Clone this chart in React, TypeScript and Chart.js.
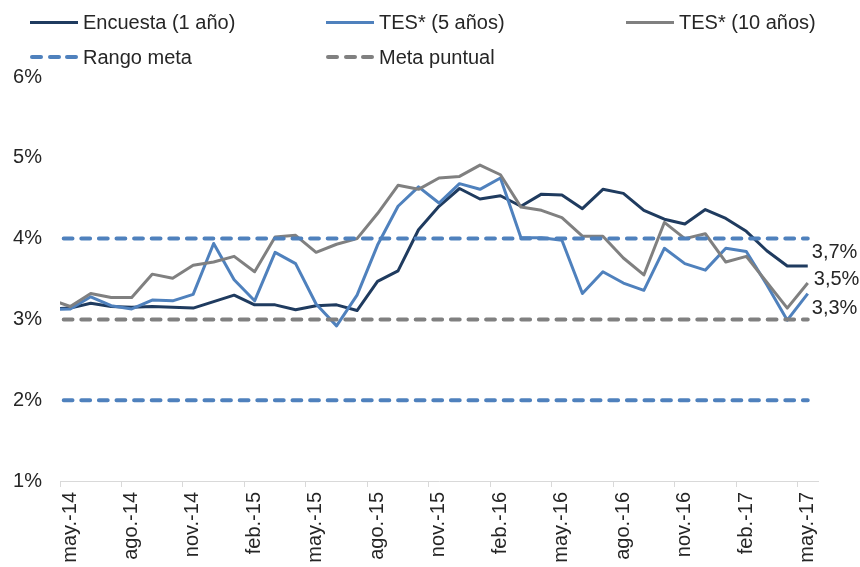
import React, { useEffect, useRef } from 'react';
import { Chart, registerables } from 'chart.js';

Chart.register(...registerables);

// ---- DATA ----
const months = [
  'abr.-14', 'may.-14', 'jun.-14', 'jul.-14', 'ago.-14', 'sep.-14', 'oct.-14', 'nov.-14', 'dic.-14',
  'ene.-15', 'feb.-15', 'mar.-15', 'abr.-15', 'may.-15', 'jun.-15', 'jul.-15', 'ago.-15', 'sep.-15', 'oct.-15', 'nov.-15', 'dic.-15',
  'ene.-16', 'feb.-16', 'mar.-16', 'abr.-16', 'may.-16', 'jun.-16', 'jul.-16', 'ago.-16', 'sep.-16', 'oct.-16', 'nov.-16', 'dic.-16',
  'ene.-17', 'feb.-17', 'mar.-17', 'abr.-17', 'may.-17',
];

const tickLabels = [
  'may.-14', 'ago.-14', 'nov.-14', 'feb.-15', 'may.-15', 'ago.-15', 'nov.-15',
  'feb.-16', 'may.-16', 'ago.-16', 'nov.-16', 'feb.-17', 'may.-17',
];

const encuesta = [
  3.13, 3.14, 3.20, 3.16, 3.15, 3.16, 3.15, 3.14, 3.22,
  3.30, 3.18, 3.18, 3.12, 3.17, 3.18, 3.11, 3.47, 3.60, 4.11, 4.40, 4.62,
  4.49, 4.53, 4.40, 4.55, 4.54, 4.37, 4.61, 4.56, 4.35, 4.24, 4.18, 4.36,
  4.25, 4.09, 3.85, 3.66, 3.66,
];

const tes5 = [
  3.12, 3.13, 3.28, 3.17, 3.13, 3.24, 3.23, 3.31, 3.94,
  3.49, 3.23, 3.83, 3.69, 3.19, 2.92, 3.30, 3.92, 4.40, 4.64, 4.44, 4.68,
  4.61, 4.75, 4.01, 4.01, 3.98, 3.32, 3.59, 3.45, 3.36, 3.88, 3.69, 3.61,
  3.88, 3.84, 3.43, 2.99, 3.32,
];

const tes10 = [
  3.25, 3.16, 3.32, 3.27, 3.27, 3.56, 3.51, 3.67, 3.71,
  3.78, 3.59, 4.02, 4.04, 3.83, 3.93, 4.00, 4.31, 4.66, 4.61, 4.75, 4.77,
  4.91, 4.79, 4.39, 4.35, 4.26, 4.03, 4.03, 3.76, 3.55, 4.20, 4.00, 4.06,
  3.71, 3.78, 3.46, 3.14, 3.45,
];

const rangoMetaSup = 4;
const rangoMetaInf = 2;
const metaPuntual = 3;

const yTicks = [1, 2, 3, 4, 5, 6];
const endLabels = { encuesta: '3,7%', tes5: '3,3%', tes10: '3,5%' };

// ---- STYLE ----
const FONT = '"Liberation Sans", Arial, Helvetica, sans-serif';
const TEXT = '#262626';
const C_ENC = '#1F3B5F';
const C_TES5 = '#4F81BD';
const C_TES10 = '#808080';
const C_RANGO = '#4F81BD';
const C_META = '#808080';

// x position: slot centre of each month, with "may.-14" slot starting at 0
const xOf = (label: string) => months.indexOf(label) - 1;
const series = (vals: number[]) => vals.map((v, i) => ({ x: xOf(months[i]) + 0.5, y: v }));
const flat = (v: number) => [
  { x: xOf('may.-14'), y: v },
  { x: xOf('may.-17') + 0.5, y: v },
];

const endLabelPlugin = {
  id: 'endLabels',
  afterDatasetsDraw(chart: any) {
    const ctx = chart.ctx;
    chart.data.datasets.forEach((ds: any, i: number) => {
      if (!ds.endLabel) return;
      const meta = chart.getDatasetMeta(i);
      const pt = meta.data[meta.data.length - 1];
      if (!pt) return;
      ctx.save();
      ctx.font = `20px ${FONT}`;
      ctx.fillStyle = TEXT;
      ctx.textAlign = 'left';
      ctx.textBaseline = 'middle';
      ctx.fillText(ds.endLabel, pt.x + ds.endDx, pt.y + ds.endDy);
      ctx.restore();
    });
  },
};

const legendItems = [
  { label: 'Encuesta (1 año)', color: C_ENC, dashed: false, left: 30, top: 22 },
  { label: 'TES* (5 años)', color: C_TES5, dashed: false, left: 326, top: 22 },
  { label: 'TES* (10 años)', color: C_TES10, dashed: false, left: 626, top: 22 },
  { label: 'Rango meta', color: C_RANGO, dashed: true, left: 30, top: 57 },
  { label: 'Meta puntual', color: C_META, dashed: true, left: 326, top: 57 },
];

export default function App() {
  const ref = useRef<HTMLCanvasElement | null>(null);

  useEffect(() => {
    document.body.style.margin = '0';
    const canvas = ref.current;
    if (!canvas) return;

    const lineDs = (label: string, data: any[], color: string, extra: any = {}) => ({
      label,
      data,
      borderColor: color,
      backgroundColor: color,
      borderWidth: 3,
      pointRadius: 0,
      pointHoverRadius: 0,
      tension: 0,
      fill: false,
      clip: 0,
      borderJoinStyle: 'round',
      ...extra,
    });
    const dashExtra = {
      borderWidth: 4,
      borderDash: [8.8, 8.8],
      borderDashOffset: 13.9,
      borderCapStyle: 'round',
    };

    const chart = new Chart(canvas, {
      type: 'line',
      data: {
        datasets: [
          lineDs('Rango meta', flat(rangoMetaSup), C_RANGO, dashExtra),
          lineDs('Rango meta inf', flat(rangoMetaInf), C_RANGO, dashExtra),
          lineDs('Meta puntual', flat(metaPuntual), C_META, dashExtra),
          lineDs('TES* (10 años)', series(tes10), C_TES10, { endLabel: endLabels.tes10, endDx: 6, endDy: -4 }),
          lineDs('TES* (5 años)', series(tes5), C_TES5, { endLabel: endLabels.tes5, endDx: 4, endDy: 15 }),
          lineDs('Encuesta (1 año)', series(encuesta), C_ENC, { endLabel: endLabels.encuesta, endDx: 4, endDy: -14 }),
        ] as any,
      },
      options: {
        animation: false,
        responsive: false,
        maintainAspectRatio: false,
        events: [],
        layout: { padding: { top: 77, right: 42, left: 0, bottom: 0 } },
        plugins: {
          legend: { display: false },
          tooltip: { enabled: false },
          title: { display: false },
        },
        scales: {
          x: {
            type: 'linear',
            min: xOf('may.-14'),
            max: xOf('may.-17') + 1,
            afterBuildTicks: (scale: any) => {
              scale.ticks = tickLabels.map((l) => ({ value: xOf(l), label: l }));
            },
            afterFit: (scale: any) => {
              scale.height = 86;
            },
            ticks: {
              autoSkip: false,
              minRotation: 90,
              maxRotation: 90,
              padding: 5,
              labelOffset: 10,
              color: TEXT,
              font: { family: FONT, size: 20 },
              callback: (v: any) => {
                const i = tickLabels.findIndex((l) => xOf(l) === v);
                return i >= 0 ? tickLabels[i] : '';
              },
            },
            grid: {
              display: true,
              drawOnChartArea: false,
              drawTicks: true,
              tickLength: 6,
              color: '#D9D9D9',
              lineWidth: 1,
            },
            border: { display: true, color: '#D9D9D9', width: 1 },
          },
          y: {
            type: 'linear',
            min: yTicks[0],
            max: yTicks[yTicks.length - 1],
            afterBuildTicks: (scale: any) => {
              scale.ticks = yTicks.map((v) => ({ value: v }));
            },
            afterFit: (scale: any) => {
              scale.width = 60;
            },
            ticks: {
              padding: 18,
              color: TEXT,
              font: { family: FONT, size: 20 },
              callback: (v: any) => `${v}%`,
            },
            grid: { display: false, drawTicks: false },
            border: { display: false },
          },
        },
      } as any,
      plugins: [endLabelPlugin],
    });

    return () => chart.destroy();
  }, []);

  return (
    <div style={{ position: 'relative', width: 860, height: 567, background: '#fff', fontFamily: FONT }}>
      <canvas ref={ref} width={860} height={567} style={{ display: 'block', width: 860, height: 567 }} />
      {legendItems.map((it) => (
        <div
          key={it.label}
          style={{
            position: 'absolute',
            left: it.left,
            top: it.top - 12,
            height: 24,
            display: 'flex',
            alignItems: 'center',
            whiteSpace: 'nowrap',
            fontSize: 20,
            color: TEXT,
            lineHeight: '24px',
          }}
        >
          {it.dashed ? (
            <span style={{ display: 'inline-flex', width: 48, justifyContent: 'space-between', marginRight: 5 }}>
              {[0, 1, 2].map((k) => (
                <span
                  key={k}
                  style={{ display: 'inline-block', width: 13, height: 4, borderRadius: 2, background: it.color }}
                />
              ))}
            </span>
          ) : (
            <span style={{ display: 'inline-block', width: 48, height: 3, background: it.color, marginRight: 5 }} />
          )}
          <span>{it.label}</span>
        </div>
      ))}
    </div>
  );
}
